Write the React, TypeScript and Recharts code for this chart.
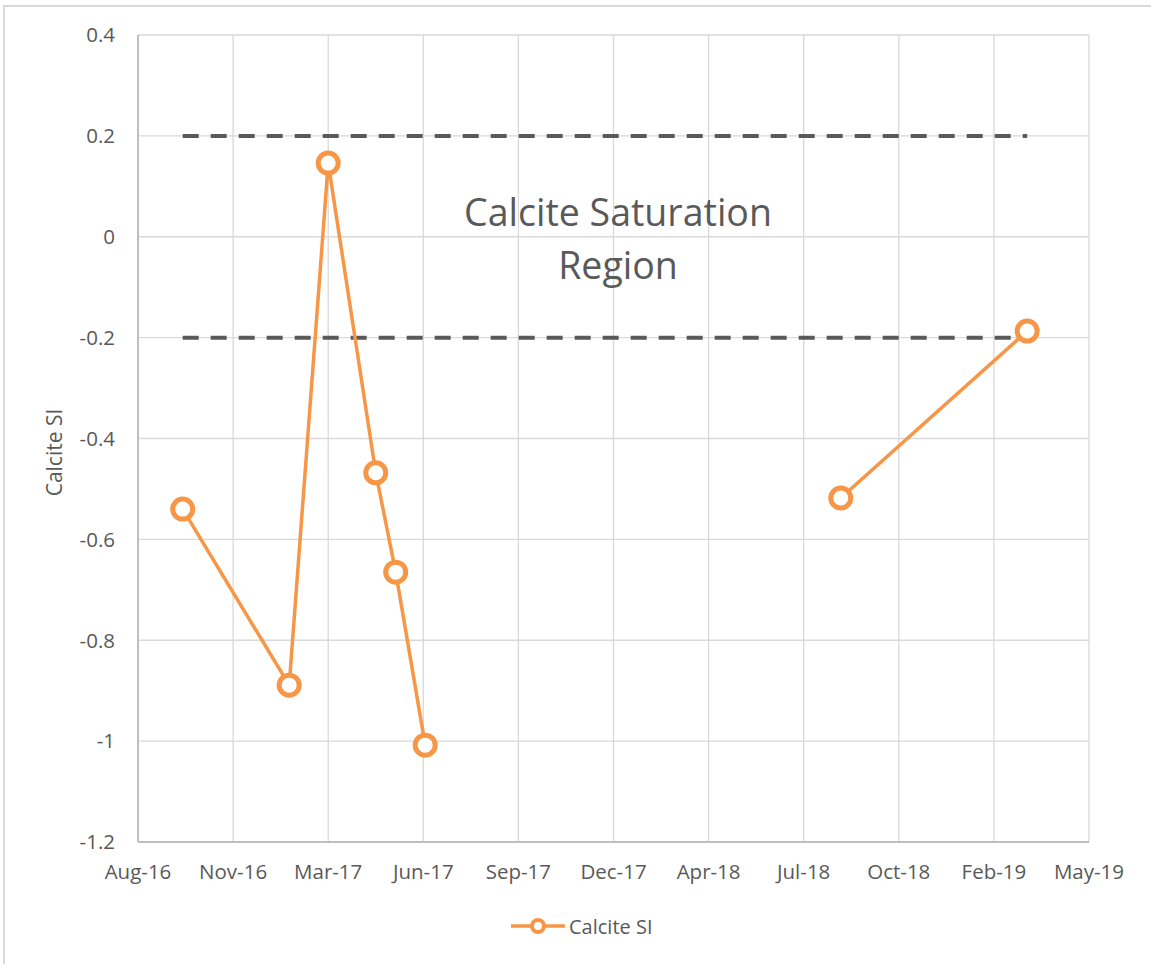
import React from "react"
import {
  LineChart,
  Line,
  XAxis,
  YAxis,
  CartesianGrid,
  ReferenceLine,
} from "recharts"

// Excel serial dates (days) of each sample; null value = gap in the series
const sampleDates = [42647, 42759, 42800, 42850, 42871, 42902, 43100, 43339, 43535]
const calciteSI = [-0.54, -0.889, 0.146, -0.468, -0.665, -1.008, null, -0.518, -0.187]

const xTicks = [42600, 42700, 42800, 42900, 43000, 43100, 43200, 43300, 43400, 43500, 43600]
const xTickLabels = [
  "Aug-16", "Nov-16", "Mar-17", "Jun-17", "Sep-17", "Dec-17",
  "Apr-18", "Jul-18", "Oct-18", "Feb-19", "May-19",
]
const yTicks = [0.4, 0.2, 0, -0.2, -0.4, -0.6, -0.8, -1, -1.2]

// saturation band limits, drawn from first to last sample date
const bandLimits = [0.2, -0.2]
const bandStart = 42647
const bandEnd = 43535

const data = sampleDates.map((d, i) => ({ date: d, si: calciteSI[i] }))

const ORANGE = "#F79646"
const FONT = "'Open Sans', sans-serif"
const TEXT = "#595959"

export default function App() {
  return (
    <div
      style={{
        position: "absolute",
        left: 0,
        top: 0,
        width: 1151,
        height: 964,
        background: "#fff",
        fontFamily: FONT,
        overflow: "hidden",
      }}
    >
      <div
        style={{
          position: "absolute",
          left: 3,
          top: 5,
          width: 1160,
          height: 980,
          border: "2px solid #d9d9d9",
        }}
      />
      <LineChart
        width={1151}
        height={964}
        data={data}
        margin={{ top: 35, right: 62, left: 78, bottom: 82 }}
        style={{ position: "absolute", left: 0, top: 0 }}
      >
        <CartesianGrid stroke="#d9d9d9" strokeWidth={1.3} />
        <XAxis
          dataKey="date"
          type="number"
          domain={[42600, 43600]}
          ticks={xTicks}
          tickFormatter={(v) => xTickLabels[xTicks.indexOf(v)] ?? ""}
          height={40}
          stroke="#bfbfbf"
          strokeWidth={2}
          tickLine={false}
          tickSize={0}
          tickMargin={22}
          tick={{ fill: TEXT, fontSize: 20.5, fontFamily: FONT }}
          interval={0}
        />
        <YAxis
          type="number"
          domain={[-1.2, 0.4]}
          ticks={yTicks}
          tickFormatter={(v) => String(Math.round(v * 10) / 10)}
          width={60}
          stroke="#bfbfbf"
          strokeWidth={2}
          tickLine={false}
          tickSize={0}
          tickMargin={23}
          tick={{ fill: TEXT, fontSize: 20.5, fontFamily: FONT }}
          interval={0}
          label={{
            value: "Calcite SI",
            angle: -90,
            position: "insideLeft",
            offset: -23,
            dy: 14,
            fill: TEXT,
            fontSize: 21,
            fontFamily: FONT,
            style: { textAnchor: "middle" },
          }}
        />
        {bandLimits.map((y) => (
          <ReferenceLine
            key={y}
            segment={[
              { x: bandStart, y },
              { x: bandEnd, y },
            ]}
            stroke="#595959"
            strokeWidth={4}
            strokeDasharray="16 12"
            ifOverflow="extendDomain"
          />
        ))}
        <Line
          type="linear"
          dataKey="si"
          name="Calcite SI"
          stroke={ORANGE}
          strokeWidth={3.5}
          connectNulls={false}
          isAnimationActive={false}
          dot={{ r: 10, stroke: ORANGE, strokeWidth: 5, fill: "#fff" }}
        />
      </LineChart>

      {/* annotation inside the saturation band */}
      <div
        style={{
          position: "absolute",
          left: 418,
          top: 185,
          width: 400,
          textAlign: "center",
          color: TEXT,
          fontSize: 37.5,
          lineHeight: "53px",
        }}
      >
        Calcite Saturation
        <br />
        Region
      </div>

      {/* legend */}
      <div
        style={{
          position: "absolute",
          left: 510,
          top: 912,
          display: "flex",
          alignItems: "center",
          color: TEXT,
          fontSize: 20,
        }}
      >
        <svg width={56} height={28}>
          <line x1={1} y1={14} x2={55} y2={14} stroke={ORANGE} strokeWidth={3.5} />
          <circle cx={28} cy={14} r={6} fill="#fff" stroke={ORANGE} strokeWidth={4} />
        </svg>
        <span style={{ marginLeft: 3 }}>Calcite SI</span>
      </div>
    </div>
  )
}
